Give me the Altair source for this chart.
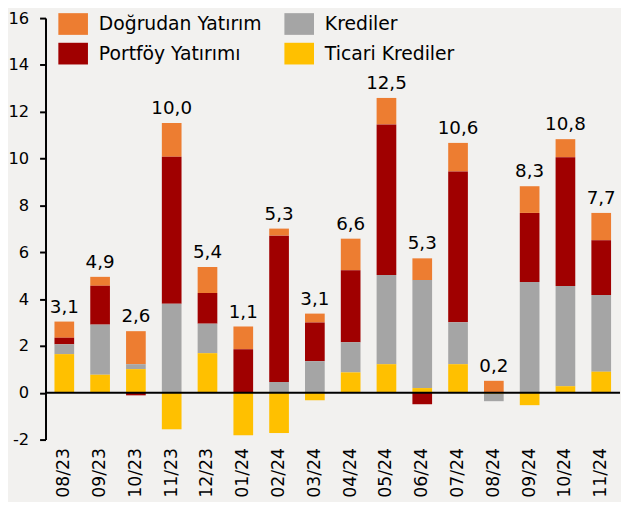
import altair as alt
import pandas as pd

months = ["08/23", "09/23", "10/23", "11/23", "12/23", "01/24", "02/24", "03/24",
          "04/24", "05/24", "06/24", "07/24", "08/24", "09/24", "10/24", "11/24"]
# legend order (laid out column by column)
series = ["Doğrudan Yatırım", "Portföy Yatırımı", "Krediler", "Ticari Krediler"]
colors = ["#ED7D31", "#A00000", "#A5A5A5", "#FFC000"]

dogrudan = [0.69, 0.38, 1.41, 1.44, 1.11, 0.97, 0.30, 0.38, 1.35, 1.13, 0.93, 1.22, 0.51, 1.14, 0.77, 1.17]
portfoy = [0.28, 1.66, -0.11, 6.28, 1.31, 1.86, 6.25, 1.65, 3.07, 6.43, -0.49, 6.44, 0.0, 2.95, 5.50, 2.33]
krediler = [0.42, 2.14, 0.21, 3.80, 1.26, 0.0, 0.46, 1.35, 1.29, 3.81, 4.61, 1.79, -0.32, 4.73, 4.28, 3.28]
ticari = [1.65, 0.77, 1.01, -1.56, 1.69, -1.81, -1.72, -0.32, 0.87, 1.22, 0.20, 1.22, -0.04, -0.53, 0.28, 0.90]
totals = [3.1, 4.9, 2.6, 10.0, 5.4, 1.1, 5.3, 3.1, 6.6, 12.5, 5.3, 10.6, 0.2, 8.3, 10.8, 7.7]

# stacking order from the bottom up
stack_order = {"Ticari Krediler": 0, "Krediler": 1, "Portföy Yatırımı": 2, "Doğrudan Yatırım": 3}
values = {"Doğrudan Yatırım": dogrudan, "Krediler": krediler,
          "Portföy Yatırımı": portfoy, "Ticari Krediler": ticari}

rows = []
for s in series:
    for m, v in zip(months, values[s]):
        rows.append({"month": m, "series": s, "value": v, "ord": stack_order[s]})
df = pd.DataFrame(rows)

tops = []
for i, m in enumerate(months):
    pos = sum(max(values[s][i], 0) for s in series)
    tops.append({"month": m, "top": pos, "label": f"{totals[i]:.1f}".replace(".", ",")})
df_lab = pd.DataFrame(tops)

FONT = "DejaVu Sans"

xscale = alt.Scale(paddingInner=0.45, paddingOuter=0.25)
yscale = alt.Scale(domain=[-2, 16], nice=False, zero=False)

bars = alt.Chart(df).mark_bar().encode(
    x=alt.X("month:N", sort=months, scale=xscale,
            axis=alt.Axis(title=None, labelAngle=-90, domain=False, ticks=False,
                          labelPadding=8, labelFontSize=17.5, labelFont=FONT,
                          labelColor="black")),
    y=alt.Y("value:Q", stack="zero", scale=yscale,
            axis=alt.Axis(title=None, values=list(range(-2, 17, 2)), grid=False,
                          labelExpr="'' + datum.value",
                          domainColor="black", domainWidth=2, tickColor="black",
                          tickWidth=2, tickSize=6, labelPadding=11,
                          labelFontSize=16.5, labelFont=FONT, labelColor="black")),
    color=alt.Color("series:N", scale=alt.Scale(domain=series, range=colors),
                    legend=alt.Legend(title=None)),
    order=alt.Order("ord:Q", sort="ascending"),
)

zero = alt.Chart(pd.DataFrame({"y": [0]})).mark_rule(color="black", strokeWidth=2).encode(
    y=alt.Y("y:Q", scale=yscale, title=None)
)

labels = alt.Chart(df_lab).mark_text(
    dy=-9, baseline="alphabetic", fontSize=18.5, font=FONT, color="black"
).encode(
    x=alt.X("month:N", sort=months, scale=xscale, title=None),
    y=alt.Y("top:Q", scale=yscale, title=None),
    text="label:N",
)

chart = alt.layer(bars, zero, labels).properties(
    width=582, height=427,
    padding={"left": 38, "top": 7, "right": 1, "bottom": 60},
    autosize=alt.AutoSizeParams(type="none"),
    background="#F2F1EF",
).configure_view(stroke=None).configure_legend(
    orient="none", legendX=13, legendY=-9, columns=2, padding=0,
    symbolType="M-1,-0.733H1V0.733H-1Z", symbolSize=900, symbolStrokeWidth=0,
    labelFontSize=19, labelFont=FONT, labelColor="black", labelLimit=400,
    labelOffset=11, columnPadding=23, rowPadding=4,
)

chart.save("out.html", embed_options={"renderer": "svg", "actions": False})
